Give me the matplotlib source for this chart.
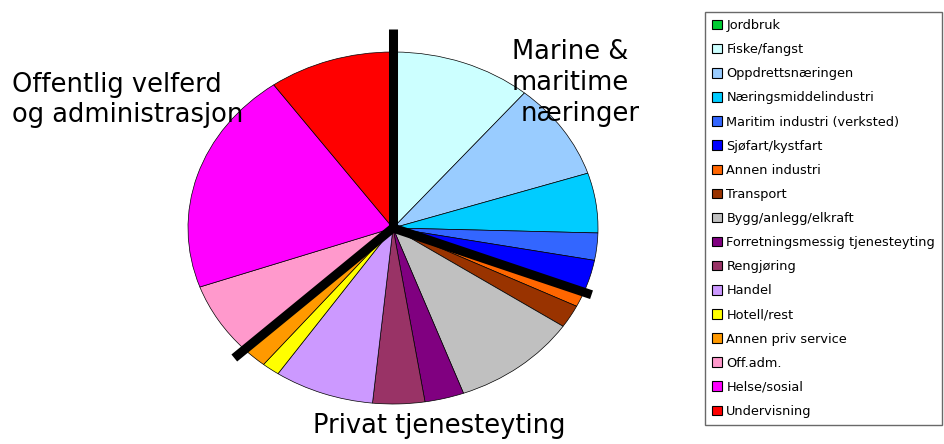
import numpy as np
import matplotlib
matplotlib.use("Agg")
import matplotlib.pyplot as plt
from matplotlib.patches import Patch

plt.rcParams["font.family"] = ["DejaVu Sans"]

W, H = 945, 444

# Andeler (prosent), lest av figuren
naeringer = [
    "Jordbruk", "Fiske/fangst", "Oppdrettsnæringen", "Næringsmiddelindustri",
    "Maritim industri (verksted)", "Sjøfart/kystfart", "Annen industri", "Transport",
    "Bygg/anlegg/elkraft", "Forretningsmessig tjenesteyting", "Rengjøring", "Handel",
    "Hotell/rest", "Annen priv service", "Off.adm.", "Helse/sosial", "Undervisning",
]
andel = [0.1, 11.0, 8.9, 5.5, 2.5, 3.0, 1.4, 2.1, 10.0, 3.1, 4.1, 7.9, 1.4, 2.0, 6.7, 20.6, 9.9]
farger = [
    "#00CC33", "#CCFFFF", "#99CCFF", "#00CCFF", "#3366FF", "#0000FF", "#FF6600", "#993300",
    "#C0C0C0", "#800080", "#993366", "#CC99FF", "#FFFF00", "#FF9900", "#FF99CC", "#FF00FF",
    "#FF0000",
]
# grupper: marine (0..5), privat (6..13), offentlig (14..16)
gruppe_start = [0, 6, 14]
strek_lengde = [1.13, 1.04, 1.07]

fig = plt.figure(figsize=(W / 100, H / 100), dpi=100)

# elliptisk pai: senter (393, 228) px, radius 205 x 176 px
cx, cy, rx, ry = 393, 228, 205, 176
lim = 1.25
ax = fig.add_axes([(cx - lim * rx) / W, (H - cy - lim * ry) / H,
                   2 * lim * rx / W, 2 * lim * ry / H])
ax.pie(andel, colors=farger, startangle=90, counterclock=False,
       wedgeprops=dict(edgecolor="black", linewidth=0.5))
ax.set_aspect("auto")
ax.set_xlim(-lim, lim)
ax.set_ylim(-lim, lim)
ax.axis("off")

# tykke skillestreker mellom gruppene
total = sum(andel)
kum = np.concatenate([[0], np.cumsum(andel)]) / total
for i, L in zip(gruppe_start, strek_lengde):
    vinkel = np.deg2rad(90 - 360 * kum[i])
    ax.plot([0, L * np.cos(vinkel)], [0, L * np.sin(vinkel)], color="black",
            linewidth=6.5, solid_capstyle="butt", clip_on=False, zorder=5)

def tekst(x, y, s):
    fig.text(x / W, 1 - y / H, s, fontsize=18.5, va="baseline", ha="left")

tekst(12, 92, "Offentlig velferd")
tekst(12, 122, "og administrasjon")
tekst(512, 59, "Marine &")
tekst(512, 90, "maritime")
tekst(521, 121, "næringer")
tekst(313, 433, "Privat tjenesteyting")

handles = [Patch(facecolor=c, edgecolor="black", linewidth=0.8) for c in farger]
leg = fig.legend(handles, naeringer, loc="upper left",
                 bbox_to_anchor=(705 / W, 1 - 12 / H), fontsize=9.3,
                 frameon=True, fancybox=False, shadow=False,
                 handlelength=0.75, handleheight=0.75, handletextpad=0.35,
                 labelspacing=0.86, borderpad=0.55, borderaxespad=0)
leg.get_frame().set_edgecolor("#444444")
leg.get_frame().set_linewidth(1.0)

fig.savefig("out.png", dpi=100)
